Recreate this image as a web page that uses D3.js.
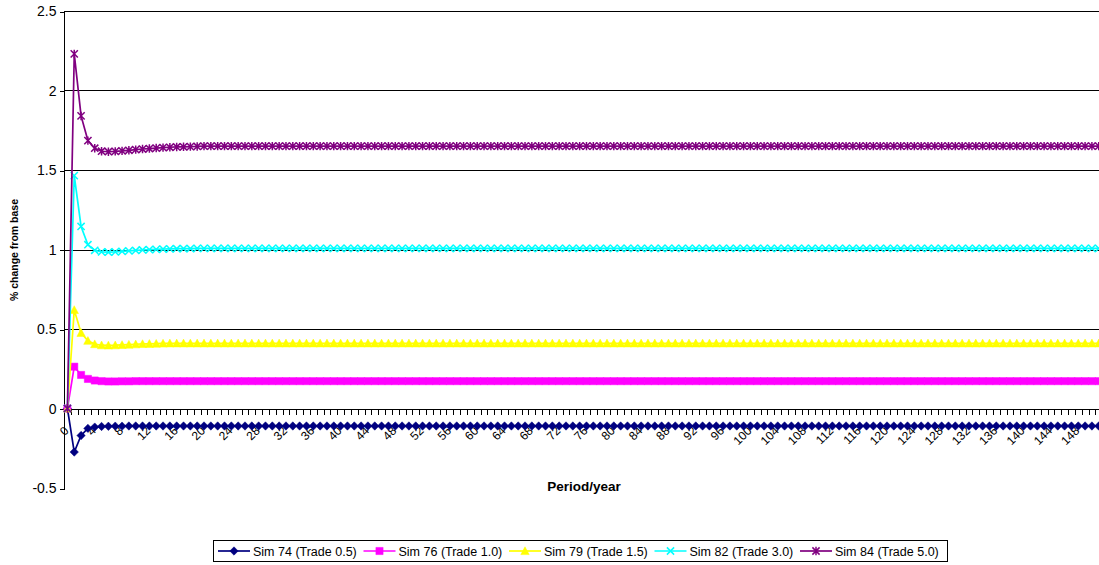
<!DOCTYPE html>
<html>
<head>
<meta charset="utf-8">
<script src="https://cdn.jsdelivr.net/npm/d3@7"></script>
<style>
  body { margin: 0; background: #fff; }
  svg { display: block; font-family: "Liberation Sans", Arial, sans-serif; }
</style>
</head>
<body>
<svg id="chart" width="1099" height="565"></svg>
<script>
// Simulation results: % change from base, by period
const sim74 = [
  0,-0.274,-0.17,-0.125,-0.117,-0.113,-0.112,-0.111,-0.111,-0.11,-0.11,-0.11,-0.11,-0.11,-0.11,-0.11,-0.11,-0.11,-0.11,-0.11,
  -0.11,-0.11,-0.11,-0.11,-0.11,-0.11,-0.11,-0.11,-0.11,-0.11,-0.11,-0.11,
  -0.11,-0.11,-0.11,-0.11,-0.11,-0.11,-0.11,-0.11,-0.11,-0.11,-0.11,-0.11,
  -0.11,-0.11,-0.11,-0.11,-0.11,-0.11,-0.11,-0.11,-0.11,-0.11,-0.11,-0.11,
  -0.11,-0.11,-0.11,-0.11,-0.11,-0.11,-0.11,-0.11,-0.11,-0.11,-0.11,-0.11,
  -0.11,-0.11,-0.11,-0.11,-0.11,-0.11,-0.11,-0.11,-0.11,-0.11,-0.11,-0.11,
  -0.11,-0.11,-0.11,-0.11,-0.11,-0.11,-0.11,-0.11,-0.11,-0.11,-0.11,-0.11,
  -0.11,-0.11,-0.11,-0.11,-0.11,-0.11,-0.11,-0.11,-0.11,-0.11,-0.11,-0.11,
  -0.11,-0.11,-0.11,-0.11,-0.11,-0.11,-0.11,-0.11,-0.11,-0.11,-0.11,-0.11,
  -0.11,-0.11,-0.11,-0.11,-0.11,-0.11,-0.11,-0.11,-0.11,-0.11,-0.11,-0.11,
  -0.11,-0.11,-0.11,-0.11,-0.11,-0.11,-0.11,-0.11,-0.11,-0.11,-0.11,-0.11,
  -0.11,-0.11,-0.11,-0.11,-0.11,-0.11,-0.11,-0.11,-0.11,-0.11,-0.11,-0.11
];
const sim76 = [
  0,0.263,0.211,0.186,0.176,0.172,0.17,0.17,0.171,0.171,0.172,0.172,0.172,0.172,0.172,0.172,0.172,0.172,0.172,0.172,
  0.172,0.172,0.172,0.172,0.172,0.172,0.172,0.172,0.172,0.172,0.172,0.172,
  0.172,0.172,0.172,0.172,0.172,0.172,0.172,0.172,0.172,0.172,0.172,0.172,
  0.172,0.172,0.172,0.172,0.172,0.172,0.172,0.172,0.172,0.172,0.172,0.172,
  0.172,0.172,0.172,0.172,0.172,0.172,0.172,0.172,0.172,0.172,0.172,0.172,
  0.172,0.172,0.172,0.172,0.172,0.172,0.172,0.172,0.172,0.172,0.172,0.172,
  0.172,0.172,0.172,0.172,0.172,0.172,0.172,0.172,0.172,0.172,0.172,0.172,
  0.172,0.172,0.172,0.172,0.172,0.172,0.172,0.172,0.172,0.172,0.172,0.172,
  0.172,0.172,0.172,0.172,0.172,0.172,0.172,0.172,0.172,0.172,0.172,0.172,
  0.172,0.172,0.172,0.172,0.172,0.172,0.172,0.172,0.172,0.172,0.172,0.172,
  0.172,0.172,0.172,0.172,0.172,0.172,0.172,0.172,0.172,0.172,0.172,0.172,
  0.172,0.172,0.172,0.172,0.172,0.172,0.172,0.172,0.172,0.172,0.172,0.172
];
const sim79 = [
  0,0.62,0.476,0.426,0.405,0.398,0.397,0.398,0.4,0.402,0.404,0.406,0.407,0.408,0.409,0.41,0.41,0.41,0.41,0.41,
  0.41,0.41,0.41,0.41,0.41,0.41,0.41,0.41,0.41,0.41,0.41,0.41,
  0.41,0.41,0.41,0.41,0.41,0.41,0.41,0.41,0.41,0.41,0.41,0.41,
  0.41,0.41,0.41,0.41,0.41,0.41,0.41,0.41,0.41,0.41,0.41,0.41,
  0.41,0.41,0.41,0.41,0.41,0.41,0.41,0.41,0.41,0.41,0.41,0.41,
  0.41,0.41,0.41,0.41,0.41,0.41,0.41,0.41,0.41,0.41,0.41,0.41,
  0.41,0.41,0.41,0.41,0.41,0.41,0.41,0.41,0.41,0.41,0.41,0.41,
  0.41,0.41,0.41,0.41,0.41,0.41,0.41,0.41,0.41,0.41,0.41,0.41,
  0.41,0.41,0.41,0.41,0.41,0.41,0.41,0.41,0.41,0.41,0.41,0.41,
  0.41,0.41,0.41,0.41,0.41,0.41,0.41,0.41,0.41,0.41,0.41,0.41,
  0.41,0.41,0.41,0.41,0.41,0.41,0.41,0.41,0.41,0.41,0.41,0.41,
  0.41,0.41,0.41,0.41,0.41,0.41,0.41,0.41,0.41,0.41,0.41,0.41
];
const sim82 = [
  0,1.465,1.145,1.03,0.995,0.985,0.983,0.985,0.988,0.991,0.994,0.997,0.999,1.001,1.003,1.004,1.005,1.006,1.006,1.007,
  1.007,1.007,1.007,1.007,1.007,1.007,1.007,1.007,1.007,1.007,1.007,1.007,
  1.007,1.007,1.007,1.007,1.007,1.007,1.007,1.007,1.007,1.007,1.007,1.007,
  1.007,1.007,1.007,1.007,1.007,1.007,1.007,1.007,1.007,1.007,1.007,1.007,
  1.007,1.007,1.007,1.007,1.007,1.007,1.007,1.007,1.007,1.007,1.007,1.007,
  1.007,1.007,1.007,1.007,1.007,1.007,1.007,1.007,1.007,1.007,1.007,1.007,
  1.007,1.007,1.007,1.007,1.007,1.007,1.007,1.007,1.007,1.007,1.007,1.007,
  1.007,1.007,1.007,1.007,1.007,1.007,1.007,1.007,1.007,1.007,1.007,1.007,
  1.007,1.007,1.007,1.007,1.007,1.007,1.007,1.007,1.007,1.007,1.007,1.007,
  1.007,1.007,1.007,1.007,1.007,1.007,1.007,1.007,1.007,1.007,1.007,1.007,
  1.007,1.007,1.007,1.007,1.007,1.007,1.007,1.007,1.007,1.007,1.007,1.007,
  1.007,1.007,1.007,1.007,1.007,1.007,1.007,1.007,1.007,1.007,1.007,1.007
];
const sim84 = [
  0,2.23,1.84,1.685,1.637,1.618,1.615,1.617,1.62,1.624,1.628,1.632,1.635,1.638,1.641,1.643,1.645,1.646,1.647,1.648,
  1.65,1.65,1.65,1.65,1.65,1.65,1.65,1.65,1.65,1.65,1.65,1.65,
  1.65,1.65,1.65,1.65,1.65,1.65,1.65,1.65,1.65,1.65,1.65,1.65,
  1.65,1.65,1.65,1.65,1.65,1.65,1.65,1.65,1.65,1.65,1.65,1.65,
  1.65,1.65,1.65,1.65,1.65,1.65,1.65,1.65,1.65,1.65,1.65,1.65,
  1.65,1.65,1.65,1.65,1.65,1.65,1.65,1.65,1.65,1.65,1.65,1.65,
  1.65,1.65,1.65,1.65,1.65,1.65,1.65,1.65,1.65,1.65,1.65,1.65,
  1.65,1.65,1.65,1.65,1.65,1.65,1.65,1.65,1.65,1.65,1.65,1.65,
  1.65,1.65,1.65,1.65,1.65,1.65,1.65,1.65,1.65,1.65,1.65,1.65,
  1.65,1.65,1.65,1.65,1.65,1.65,1.65,1.65,1.65,1.65,1.65,1.65,
  1.65,1.65,1.65,1.65,1.65,1.65,1.65,1.65,1.65,1.65,1.65,1.65,
  1.65,1.65,1.65,1.65,1.65,1.65,1.65,1.65,1.65,1.65,1.65,1.65
];

const seriesNames = ["Sim 74 (Trade 0.5)", "Sim 76 (Trade 1.0)", "Sim 79 (Trade 1.5)", "Sim 82 (Trade 3.0)", "Sim 84 (Trade 5.0)"];
const seriesValues = [sim74, sim76, sim79, sim82, sim84];
const periods = d3.range(sim74.length);        // category axis: period 0, 1, 2, ...
const yTicks = [-0.5, 0, 0.5, 1, 1.5, 2, 2.5];
const xTickLabels = periods.filter(p => p % 4 === 0);

// Presentation
const colors = ["#000080", "#ff00ff", "#ffff00", "#00ffff", "#800080"];
const markerTypes = ["diamond", "square", "triangle", "cross", "star"];

const svg = d3.select("#chart");
const plotLeft = 64, plotTop = 11, plotBottom = 488;
const bandW = 6.83;

const x = d3.scaleBand().domain(periods).range([plotLeft, plotLeft + periods.length * bandW]).paddingInner(0).paddingOuter(0);
const cx = p => x(p) + x.bandwidth() / 2;
const y = d3.scaleLinear().domain([-0.5, 2.5]).range([plotBottom, plotTop]);

// Horizontal gridlines (none at the axis minimum)
svg.append("g")
  .selectAll("line")
  .data(yTicks.filter(t => t > y.domain()[0]))
  .join("line")
  .attr("x1", plotLeft).attr("x2", 1099)
  .attr("y1", d => Math.round(y(d)) + 0.5).attr("y2", d => Math.round(y(d)) + 0.5)
  .attr("stroke", "#000").attr("stroke-width", 1).attr("shape-rendering", "crispEdges");

// Value axis
const yAxis = svg.append("g")
  .attr("transform", `translate(${plotLeft + 0.5},0.5)`)
  .call(d3.axisLeft(y).tickValues(yTicks).tickSize(5).tickSizeOuter(0).tickPadding(3).tickFormat(d => String(d)));
yAxis.selectAll("path, line").attr("stroke", "#000").attr("shape-rendering", "crispEdges");
yAxis.selectAll("text").attr("font-size", 14).attr("font-family", "Liberation Sans, Arial, sans-serif").attr("fill", "#000");
yAxis.select(".domain").attr("d", `M0,${Math.round(y(2.5))}V${Math.round(y(-0.5))}`);

// Category axis on the zero line: tick marks between categories
const y0 = Math.round(y(0)) + 0.5;
const xAxisG = svg.append("g");
xAxisG.append("line")
  .attr("x1", plotLeft).attr("x2", 1099).attr("y1", y0).attr("y2", y0)
  .attr("stroke", "#000").attr("shape-rendering", "crispEdges");
xAxisG.selectAll("line.tick")
  .data(periods.concat([periods.length]))
  .join("line")
  .attr("class", "tick")
  .attr("x1", p => Math.round(plotLeft + p * x.bandwidth()) + 0.5)
  .attr("x2", p => Math.round(plotLeft + p * x.bandwidth()) + 0.5)
  .attr("y1", y0).attr("y2", y0 + 5)
  .attr("stroke", "#000").attr("shape-rendering", "crispEdges");
xAxisG.selectAll("text")
  .data(xTickLabels)
  .join("text")
  .attr("transform", p => `translate(${cx(p) - 1},${y0 + 19}) rotate(-45)`)
  .attr("text-anchor", "end")
  .attr("dy", "0.35em")
  .attr("font-size", 12)
  .attr("fill", "#000")
  .text(p => p);

// Axis titles
svg.append("text")
  .attr("transform", `translate(18,250) rotate(-90)`)
  .attr("text-anchor", "middle")
  .attr("font-size", 10.5).attr("font-weight", "bold")
  .text("% change from base");
svg.append("text")
  .attr("x", 584).attr("y", 491)
  .attr("text-anchor", "middle")
  .attr("font-size", 13.5).attr("font-weight", "bold")
  .text("Period/year");

// Marker shapes
function markerPath(type) {
  switch (type) {
    case "diamond": return "M0,-4.2L4.2,0L0,4.2L-4.2,0Z";
    case "square": return "M-3.6,-3.6H3.6V3.6H-3.6Z";
    case "triangle": return "M0,-4.2L4.2,3.6L-4.2,3.6Z";
    case "cross": return "M-3.6,-3.6L3.6,3.6M-3.6,3.6L3.6,-3.6";
    case "star": return "M-3.6,-3.6L3.6,3.6M-3.6,3.6L3.6,-3.6M0,-4.2V4.2";
  }
}
function drawMarker(sel, type, color) {
  const filled = type === "diamond" || type === "square" || type === "triangle";
  sel.attr("d", markerPath(type))
    .attr("fill", filled ? color : "none")
    .attr("stroke", color)
    .attr("stroke-width", filled ? 0.5 : 1.5);
}

// Series lines with markers
const line = d3.line().x((v, i) => cx(periods[i])).y(v => y(v));
const plot = svg.append("g");
seriesValues.forEach((vals, s) => {
  const g = plot.append("g");
  g.append("path")
    .attr("d", line(vals))
    .attr("fill", "none")
    .attr("stroke", colors[s])
    .attr("stroke-width", 1.7);
  g.selectAll("path.mk")
    .data(vals)
    .join("path")
    .attr("class", "mk")
    .attr("transform", (v, i) => `translate(${cx(periods[i])},${y(v)})`)
    .call(drawMarker, markerTypes[s], colors[s]);
});

// Legend
const legX = 213, legY = 540, legW = 734, legH = 21, itemW = 145.5;
const leg = svg.append("g");
leg.append("rect")
  .attr("x", legX + 0.5).attr("y", legY + 0.5).attr("width", legW).attr("height", legH)
  .attr("fill", "#fff").attr("stroke", "#000").attr("shape-rendering", "crispEdges");
seriesNames.forEach((name, s) => {
  const x0 = legX + 5 + s * itemW, ym = legY + legH / 2 + 0.5;
  leg.append("line")
    .attr("x1", x0).attr("x2", x0 + 32).attr("y1", ym).attr("y2", ym)
    .attr("stroke", colors[s]).attr("stroke-width", 1.7);
  leg.append("path")
    .attr("transform", `translate(${x0 + 16},${ym})`)
    .call(drawMarker, markerTypes[s], colors[s]);
  leg.append("text")
    .attr("x", x0 + 35).attr("y", ym).attr("dy", "0.36em")
    .attr("font-size", 12.5).attr("fill", "#000")
    .text(name);
});
</script>
</body>
</html>
